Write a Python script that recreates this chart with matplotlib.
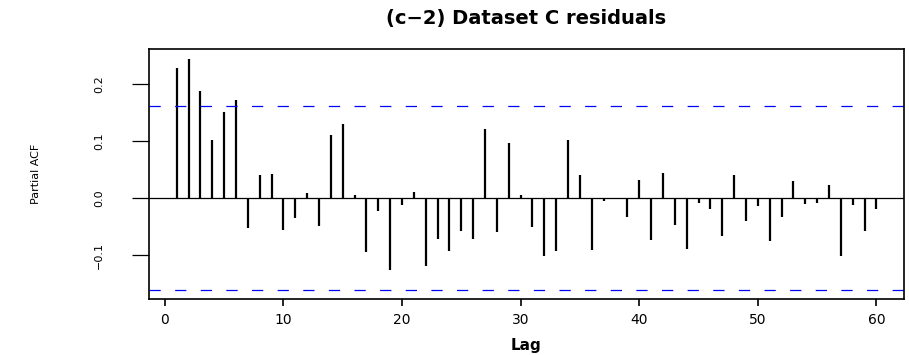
import matplotlib
matplotlib.use("Agg")
import matplotlib.pyplot as plt
import numpy as np

# partial autocorrelations, lags 1..60
lags = list(range(1, 61))
pacf = [0.228, 0.244, 0.187, 0.101, 0.150, 0.172, -0.053, 0.040, 0.042, -0.056,
        -0.035, 0.008, -0.049, 0.110, 0.130, 0.005, -0.095, -0.023, -0.126, -0.012,
        0.010, -0.119, -0.071, -0.093, -0.057, -0.072, 0.120, -0.060, 0.097, 0.005,
        -0.051, -0.102, -0.093, 0.101, 0.040, -0.091, -0.005, -0.002, -0.033, 0.032,
        -0.073, 0.044, -0.048, -0.089, -0.009, -0.019, -0.067, 0.041, -0.040, -0.014,
        -0.075, -0.033, 0.029, -0.010, -0.008, 0.022, -0.102, -0.012, -0.057, -0.020]
conf = 0.161

xticks = [0, 10, 20, 30, 40, 50, 60]
yticks = [-0.1, 0.0, 0.1, 0.2]
ytick_labels = ["\u22120.1", "0.0", "0.1", "0.2"]

title = "(c\u22122) Dataset C residuals"
xlabel = "Lag"
ylabel = "Partial ACF"

W, H = 909, 355
fig = plt.figure(figsize=(W / 100, H / 100), dpi=100)
plt.rcParams['font.family'] = ['DejaVu Sans']

# axes box in pixels
left, right, top, bottom = 148.7, 904.4, 49.3, 299.3
ax = fig.add_axes([left / W, 1 - bottom / H, (right - left) / W, (bottom - top) / H])

ax.vlines(lags, 0, pacf, color='black', linewidth=1.6)
ax.axhline(0, color='black', linewidth=0.9)
for c in (conf, -conf):
    ax.axhline(c, color='#0000ff', linewidth=0.9, dashes=(9, 11.5))

lo = min(min(pacf), -conf)
hi = max(max(pacf), conf)
ext = (hi - lo) * 0.04
ax.set_ylim(lo - ext, hi + ext)
ax.set_xlim(1 - 59 * 0.04, 60 + 59 * 0.04)

ax.set_xticks(xticks)
ax.set_xticklabels([str(t) for t in xticks], fontsize=10)
ax.set_yticks(yticks)
ax.set_yticklabels(ytick_labels, rotation=90, va='center', fontsize=8)
ax.tick_params(axis='x', length=5, width=1.2, pad=5, direction='out')
ax.tick_params(axis='y', length=12, width=0.9, pad=20, direction='out')

for s in ax.spines.values():
    s.set_linewidth(1.2)

fig.text(526.5 / W, 1 - 24 / H, title, ha='center', va='baseline',
         fontsize=14, fontweight='bold')
fig.text(526.5 / W, 1 - 350 / H, xlabel, ha='center', va='baseline',
         fontsize=11, fontweight='bold')
fig.text(36 / W, 1 - 174.3 / H, ylabel, ha='center', va='center',
         rotation=90, fontsize=8)

fig.savefig("out.png", dpi=100)
